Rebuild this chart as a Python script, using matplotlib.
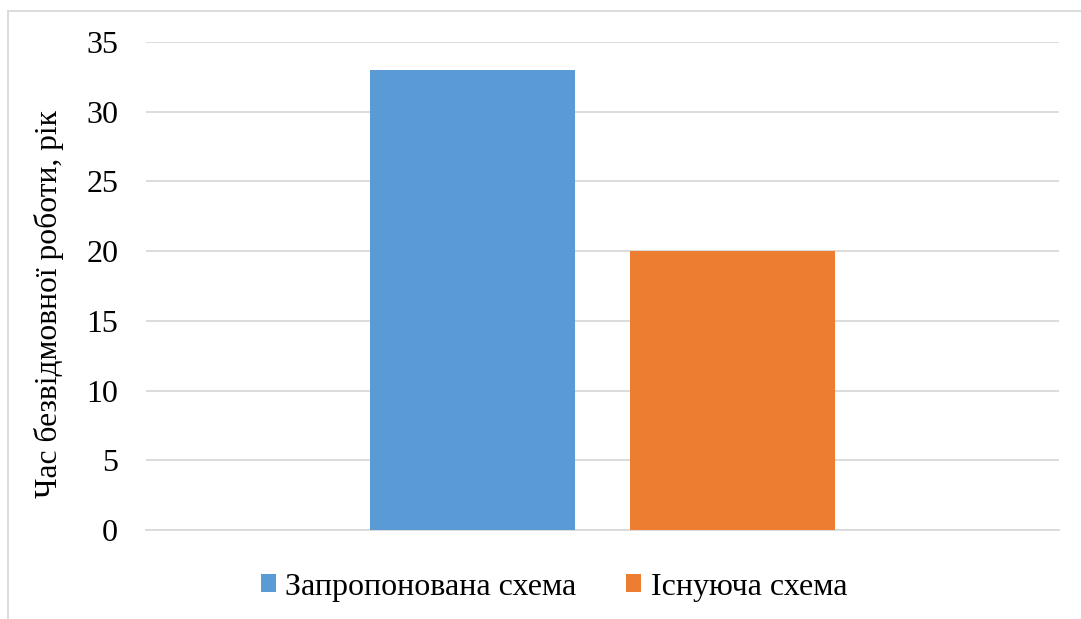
import matplotlib
matplotlib.use("Agg")
import matplotlib.pyplot as plt
from matplotlib.lines import Line2D
from matplotlib.patches import Patch

plt.rcParams['font.family'] = ['Liberation Serif', 'DejaVu Serif']

series = ["Запропонована схема", "Існуюча схема"]
values = [33, 20]
colors = ["#5B9BD5", "#ED7D31"]
y_label = "Час безвідмовної роботи, рік"
y_ticks = [0, 5, 10, 15, 20, 25, 30, 35]

fig = plt.figure(figsize=(10.81, 6.19), dpi=100)
ax = fig.add_axes([146 / 1081, 1 - 530 / 619, 913 / 1081, 488 / 619])

# one category, two series side by side (Excel clustered column)
width = 0.2245
gap = 0.06
centers = [0.5 - (width + gap) / 2, 0.5 + (width + gap) / 2]
for x, v, c in zip(centers, values, colors):
    ax.bar(x, v, width=width, color=c, zorder=3)

ax.set_xlim(0, 1)
ax.set_ylim(0, 35)
ax.set_yticks(y_ticks)
ax.set_xticks([])
ax.yaxis.grid(True, color="#D9D9D9", linewidth=1.3, zorder=0)
for s in ["top", "right", "left"]:
    ax.spines[s].set_visible(False)
ax.spines["bottom"].set_color("#D9D9D9")
ax.spines["bottom"].set_linewidth(1.3)
ax.tick_params(axis="y", length=0, pad=20, labelsize=23)

fig.text(49 / 1081, 1 - 304 / 619, y_label, rotation=90, ha="center", va="center",
         fontsize=22.7)

handles = [Patch(facecolor=c) for c in colors]
fig.legend(handles, series, loc="center", bbox_to_anchor=(554 / 1081, 1 - 587 / 619),
           ncol=2, frameon=False, fontsize=23, handlelength=0.47, handleheight=0.47,
           handletextpad=0.3, columnspacing=1.55)

# chart border (only left and top edges visible in the crop)
fig.add_artist(Line2D([8 / 1081, 8 / 1081], [0, 1 - 11 / 619], transform=fig.transFigure,
                      color="#D9D9D9", linewidth=1.3))
fig.add_artist(Line2D([8 / 1081, 1], [1 - 11 / 619, 1 - 11 / 619], transform=fig.transFigure,
                      color="#D9D9D9", linewidth=1.3))

fig.savefig("out.png", dpi=100)
